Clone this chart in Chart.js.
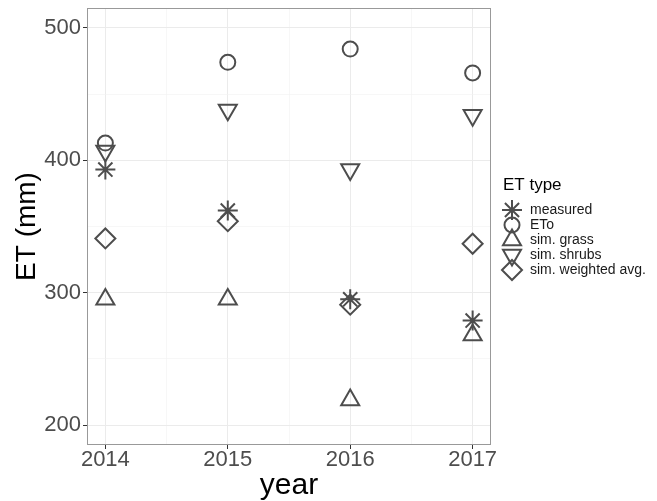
<!DOCTYPE html>
<html>
<head>
<meta charset="utf-8">
<script src="https://cdn.jsdelivr.net/npm/chart.js@4/dist/chart.umd.min.js"></script>
<style>
  body { margin: 0; background: #fff; }
  #wrap { width: 657px; height: 501px; position: relative; }
</style>
</head>
<body>
<div id="wrap"><canvas id="myChart"></canvas></div>
<script>
// values
const years = [2014, 2015, 2016, 2017];
const measured = [393, 362, 295, 279];
const eto = [413, 474, 484, 466];
const simGrass = [295, 295, 219, 268];
const simShrubs = [407, 438, 393, 434];
const simWeighted = [341, 354, 291, 337];
const yTicks = [200, 300, 400, 500];

const grey = '#4d4d4d';

function toPoints(values) {
    return years.map((yr, i) => ({x: yr, y: values[i]}));
}

function makeSet(label, values, style, radius, rotation) {
    return {
        label: label,
        data: toPoints(values),
        pointStyle: style,
        pointRadius: radius,
        pointRotation: rotation || 0,
        pointBorderColor: grey,
        pointBackgroundColor: 'rgba(0,0,0,0)',
        pointBorderWidth: 2,
        borderColor: grey,
        backgroundColor: 'rgba(0,0,0,0)',
        showLine: false
    };
}

// box round the plot panel, like theme_bw
const panelBorder = {
    id: 'panelBorder',
    afterDraw(chart) {
        const {ctx, chartArea} = chart;
        ctx.save();
        ctx.strokeStyle = '#999999';
        ctx.lineWidth = 1;
        ctx.strokeRect(chartArea.left + 0.5, chartArea.top + 0.5,
            chartArea.right - chartArea.left - 1, chartArea.bottom - chartArea.top - 1);
        ctx.restore();
    }
};

// ggplot style legend in the space kept free on the right
const shapeLegend = {
    id: 'shapeLegend',
    afterDraw(chart) {
        const ctx = chart.ctx;
        const x0 = chart.chartArea.right + 12;
        const top = 185;
        ctx.save();
        ctx.textBaseline = 'middle';
        ctx.textAlign = 'left';
        ctx.fillStyle = '#000';
        ctx.font = '17px "Liberation Sans"';
        ctx.fillText('ET type', x0, top);
        ctx.font = '14px "Liberation Sans"';
        chart.data.datasets.forEach((ds, i) => {
            const y = top + 25 + i * 15;
            ctx.strokeStyle = grey;
            ctx.fillStyle = 'rgba(0,0,0,0)';
            ctx.lineWidth = 2;
            Chart.helpers.drawPoint(ctx, {
                pointStyle: ds.pointStyle,
                radius: ds.pointRadius,
                rotation: ds.pointRotation,
                borderWidth: 2
            }, x0 + 9, y);
            ctx.fillStyle = '#1a1a1a';
            ctx.fillText(ds.label, x0 + 27, y);
        });
        ctx.restore();
    }
};

var ctx = document.getElementById('myChart').getContext('2d');
var myChart = new Chart(ctx, {
    type: 'scatter',
    data: {
        datasets: [
            makeSet('measured', measured, 'star', 10),
            makeSet('ETo', eto, 'circle', 7.5),
            makeSet('sim. grass', simGrass, 'triangle', 10.4),
            makeSet('sim. shrubs', simShrubs, 'triangle', 10.4, 180),
            makeSet('sim. weighted avg.', simWeighted, 'rectRot', 10)
        ]
    },
    options: {
        responsive: true,
        maintainAspectRatio: false,
        animation: false,
        events: [],
        layout: {autoPadding: false, padding: {top: 8, right: 166, bottom: 0, left: 0}},
        plugins: {
            tooltip: {enabled: false},
            legend: {display: false}
        },
        scales: {
            x: {
                type: 'linear',
                min: 2013.85,
                max: 2017.15,
                afterFit(s) { s.height = 56; s.paddingLeft = 0; s.paddingRight = 0; },
                ticks: {
                    stepSize: 0.5,
                    includeBounds: false,
                    autoSkip: false,
                    maxRotation: 0,
                    padding: 0,
                    color: grey,
                    font: {family: 'Liberation Sans', size: 22, lineHeight: 1},
                    callback: v => Math.abs(v - Math.round(v)) < 1e-6 ? String(Math.round(v)) : ''
                },
                grid: {
                    color: c => Number.isInteger(c.tick.value) ? '#ebebeb' : '#f2f2f2',
                    lineWidth: c => Number.isInteger(c.tick.value) ? 1 : 0.6,
                    tickColor: c => Number.isInteger(c.tick.value) ? '#333333' : 'rgba(0,0,0,0)',
                    tickLength: 4,
                    tickWidth: 1
                },
                border: {display: false},
                title: {
                    display: true,
                    text: 'year',
                    color: '#000',
                    font: {family: 'Liberation Sans', size: 30, lineHeight: 1},
                    padding: {top: 0, bottom: 0}
                }
            },
            y: {
                min: 185,
                max: 515,
                afterFit(s) { s.width = 87; s.paddingTop = 0; s.paddingBottom = 0; },
                ticks: {
                    stepSize: 50,
                    includeBounds: false,
                    autoSkip: false,
                    padding: 2,
                    color: grey,
                    font: {family: 'Liberation Sans', size: 22},
                    callback: v => yTicks.includes(v) ? String(v) : ''
                },
                grid: {
                    color: c => yTicks.includes(c.tick.value) ? '#ebebeb' : '#f2f2f2',
                    lineWidth: c => yTicks.includes(c.tick.value) ? 1 : 0.6,
                    tickColor: c => yTicks.includes(c.tick.value) ? '#333333' : 'rgba(0,0,0,0)',
                    tickLength: 4,
                    tickWidth: 1
                },
                border: {display: false},
                title: {
                    display: true,
                    text: 'ET (mm)',
                    color: '#000',
                    font: {family: 'Liberation Sans', size: 28},
                    padding: {top: 10, bottom: 0}
                }
            }
        }
    },
    plugins: [panelBorder, shapeLegend]
});
</script>
</body>
</html>
